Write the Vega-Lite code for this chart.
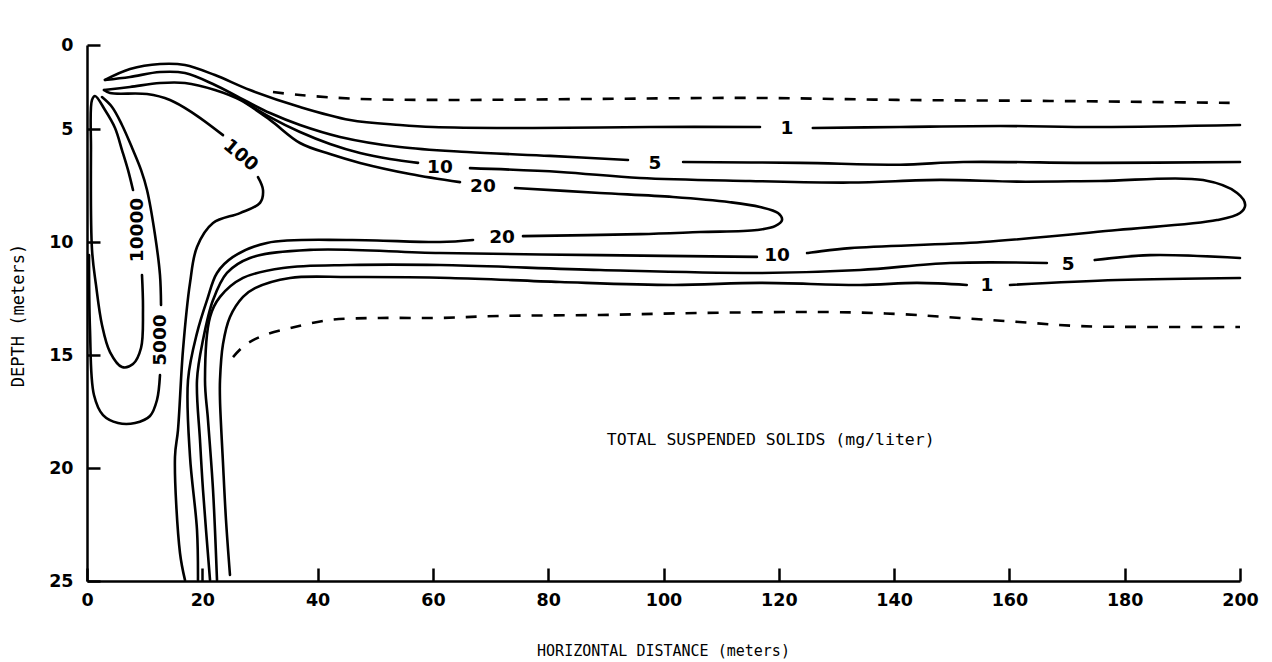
{
  "$schema": "https://vega.github.io/schema/vega-lite/v6.json",
  "width": 1153,
  "height": 536,
  "autosize": {"type": "none"},
  "padding": {"left": 87, "top": 45, "right": 32, "bottom": 81},
  "background": "white",
  "config": {"view": {"stroke": null}},
  "datasets": {
    "solid": [
      {"s":"1a","o":0,"x":3.12,"y":2.08},{"s":"1a","o":1,"x":7.46,"y":1.43},{"s":"1a","o":2,"x":12.66,"y":1.13},{"s":"1a","o":3,"x":17.0,"y":1.19},{"s":"1a","o":4,"x":22.2,"y":1.79},{"s":"1a","o":5,"x":28.27,"y":2.68},{"s":"1a","o":6,"x":36.95,"y":3.69},{"s":"1a","o":7,"x":45.62,"y":4.46},{"s":"1a","o":8,"x":54.29,"y":4.76},{"s":"1a","o":9,"x":60.02,"y":4.88},{"s":"1a","o":10,"x":77.36,"y":4.94},{"s":"1a","o":11,"x":97.66,"y":4.88},{"s":"1a","o":12,"x":116.74,"y":4.88},
      {"s":"1b","o":0,"x":125.9,"y":4.94},{"s":"1b","o":1,"x":141.0,"y":4.88},{"s":"1b","o":2,"x":158.4,"y":4.82},{"s":"1b","o":3,"x":175.7,"y":4.88},{"s":"1b","o":4,"x":200,"y":4.76},
      {"s":"5a","o":0,"x":3.12,"y":2.08},{"s":"5a","o":1,"x":7.46,"y":1.9},{"s":"5a","o":2,"x":12.66,"y":1.61},{"s":"5a","o":3,"x":17.0,"y":1.67},{"s":"5a","o":4,"x":22.2,"y":2.38},{"s":"5a","o":5,"x":26.54,"y":3.15},{"s":"5a","o":6,"x":31.74,"y":4.05},{"s":"5a","o":7,"x":36.95,"y":4.76},{"s":"5a","o":8,"x":43.89,"y":5.35},{"s":"5a","o":9,"x":54.29,"y":5.8},{"s":"5a","o":10,"x":65.92,"y":6.02},{"s":"5a","o":11,"x":80.31,"y":6.19},{"s":"5a","o":12,"x":93.84,"y":6.37},
      {"s":"5b","o":0,"x":103.4,"y":6.46},{"s":"5b","o":1,"x":123.7,"y":6.5},{"s":"5b","o":2,"x":141.0,"y":6.58},{"s":"5b","o":3,"x":152.0,"y":6.46},{"s":"5b","o":4,"x":175.7,"y":6.5},{"s":"5b","o":5,"x":200,"y":6.46},
      {"s":"10a","o":0,"x":26.54,"y":3.21},{"s":"10a","o":1,"x":31.74,"y":4.29},{"s":"10a","o":2,"x":36.95,"y":5.13},{"s":"10a","o":3,"x":42.15,"y":5.66},{"s":"10a","o":4,"x":47.36,"y":6.06},{"s":"10a","o":5,"x":52.55,"y":6.33},{"s":"10a","o":6,"x":57.42,"y":6.5},
      {"s":"10b","o":0,"x":66.44,"y":6.73},{"s":"10b","o":1,"x":82.05,"y":6.9},{"s":"10b","o":2,"x":95.92,"y":7.17},{"s":"10b","o":3,"x":115.0,"y":7.3},{"s":"10b","o":4,"x":132.35,"y":7.37},{"s":"10b","o":5,"x":147.96,"y":7.25},{"s":"10b","o":6,"x":161.3,"y":7.33},{"s":"10b","o":7,"x":175.7,"y":7.3},{"s":"10b","o":8,"x":193.6,"y":7.26},{"s":"10b","o":9,"x":199.5,"y":7.83},{"s":"10b","o":10,"x":200.9,"y":8.36},{"s":"10b","o":11,"x":200,"y":8.72},{"s":"10b","o":12,"x":196.0,"y":9.03},{"s":"10b","o":13,"x":178.7,"y":9.47},{"s":"10b","o":14,"x":155.4,"y":10.0},{"s":"10b","o":15,"x":132.35,"y":10.27},{"s":"10b","o":16,"x":124.9,"y":10.49},
      {"s":"10c","o":0,"x":116.2,"y":10.66},{"s":"10c","o":1,"x":88.98,"y":10.58},{"s":"10c","o":2,"x":61.23,"y":10.49},{"s":"10c","o":3,"x":38.68,"y":10.35},{"s":"10c","o":4,"x":28.27,"y":10.71},{"s":"10c","o":5,"x":24.28,"y":11.37},{"s":"10c","o":6,"x":21.86,"y":12.57},{"s":"10c","o":7,"x":20.12,"y":14.34},{"s":"10c","o":8,"x":19.08,"y":16.11},{"s":"10c","o":9,"x":19.6,"y":18.76},{"s":"10c","o":10,"x":20.12,"y":20.97},{"s":"10c","o":11,"x":21.34,"y":24.96},
      {"s":"20a","o":0,"x":2.95,"y":2.68},{"s":"20a","o":1,"x":7.46,"y":2.5},{"s":"20a","o":2,"x":12.66,"y":2.26},{"s":"20a","o":3,"x":17.0,"y":2.26},{"s":"20a","o":4,"x":22.2,"y":2.68},{"s":"20a","o":5,"x":26.54,"y":3.27},{"s":"20a","o":6,"x":31.74,"y":4.46},{"s":"20a","o":7,"x":36.95,"y":5.62},{"s":"20a","o":8,"x":42.15,"y":6.11},{"s":"20a","o":9,"x":47.36,"y":6.5},{"s":"20a","o":10,"x":56.03,"y":6.99},{"s":"20a","o":11,"x":64.7,"y":7.35},
      {"s":"20b","o":0,"x":74.24,"y":7.61},{"s":"20b","o":1,"x":88.98,"y":7.83},{"s":"20b","o":2,"x":101.65,"y":8.01},{"s":"20b","o":3,"x":111.54,"y":8.24},{"s":"20b","o":4,"x":116.74,"y":8.45},{"s":"20b","o":5,"x":119.86,"y":8.72},{"s":"20b","o":6,"x":120.56,"y":9.03},{"s":"20b","o":7,"x":119.34,"y":9.3},{"s":"20b","o":8,"x":116.22,"y":9.47},{"s":"20b","o":9,"x":106.33,"y":9.56},{"s":"20b","o":10,"x":95.92,"y":9.65},{"s":"20b","o":11,"x":75.63,"y":9.74},
      {"s":"20c","o":0,"x":66.96,"y":9.91},{"s":"20c","o":1,"x":61.23,"y":10.0},{"s":"20c","o":2,"x":45.62,"y":9.91},{"s":"20c","o":3,"x":31.22,"y":10.04},{"s":"20c","o":4,"x":25.33,"y":10.66},{"s":"20c","o":5,"x":22.55,"y":11.37},{"s":"20c","o":6,"x":20.82,"y":12.57},{"s":"20c","o":7,"x":19.08,"y":14.03},{"s":"20c","o":8,"x":17.52,"y":16.11},{"s":"20c","o":9,"x":17.87,"y":19.51},{"s":"20c","o":10,"x":19.08,"y":22.74},{"s":"20c","o":11,"x":19.25,"y":24.96},
      {"s":"100a","o":0,"x":2.95,"y":2.68},{"s":"100a","o":1,"x":3.99,"y":2.86},{"s":"100a","o":2,"x":10.41,"y":2.92},{"s":"100a","o":3,"x":14.4,"y":3.27},{"s":"100a","o":4,"x":18.39,"y":4.05},{"s":"100a","o":5,"x":23.59,"y":5.27},
      {"s":"100b","o":0,"x":29.66,"y":7.13},{"s":"100b","o":1,"x":30.53,"y":7.7},{"s":"100b","o":2,"x":30.01,"y":8.27},{"s":"100b","o":3,"x":26.54,"y":8.72},{"s":"100b","o":4,"x":21.86,"y":9.16},{"s":"100b","o":5,"x":19.08,"y":10.22},{"s":"100b","o":6,"x":17.87,"y":11.81},{"s":"100b","o":7,"x":16.65,"y":14.78},{"s":"100b","o":8,"x":15.78,"y":18.32},{"s":"100b","o":9,"x":15.26,"y":19.51},{"s":"100b","o":10,"x":16.13,"y":23.76},{"s":"100b","o":11,"x":17.0,"y":24.96},
      {"s":"5La","o":0,"x":22.55,"y":24.96},{"s":"5La","o":1,"x":21.86,"y":20.97},{"s":"5La","o":2,"x":20.99,"y":17.88},{"s":"5La","o":3,"x":20.47,"y":16.11},{"s":"5La","o":4,"x":21.34,"y":13.32},{"s":"5La","o":5,"x":23.07,"y":12.43},{"s":"5La","o":6,"x":27.06,"y":11.59},{"s":"5La","o":7,"x":34.0,"y":11.15},{"s":"5La","o":8,"x":45.62,"y":11.02},{"s":"5La","o":9,"x":61.23,"y":11.02},{"s":"5La","o":10,"x":88.98,"y":11.24},{"s":"5La","o":11,"x":116.74,"y":11.37},{"s":"5La","o":12,"x":134.1,"y":11.24},{"s":"5La","o":13,"x":149.7,"y":10.93},{"s":"5La","o":14,"x":166.5,"y":10.93},
      {"s":"5Lb","o":0,"x":174.8,"y":10.8},{"s":"5Lb","o":1,"x":184.4,"y":10.58},{"s":"5Lb","o":2,"x":200,"y":10.71},
      {"s":"1La","o":0,"x":24.8,"y":24.73},{"s":"1La","o":1,"x":24.11,"y":22.3},{"s":"1La","o":2,"x":23.59,"y":19.78},{"s":"1La","o":3,"x":23.07,"y":16.99},{"s":"1La","o":4,"x":23.07,"y":16.11},{"s":"1La","o":5,"x":23.59,"y":14.52},{"s":"1La","o":6,"x":24.8,"y":13.32},{"s":"1La","o":7,"x":27.06,"y":12.43},{"s":"1La","o":8,"x":29.14,"y":12.04},{"s":"1La","o":9,"x":35.21,"y":11.59},{"s":"1La","o":10,"x":45.62,"y":11.55},{"s":"1La","o":11,"x":62.97,"y":11.59},{"s":"1La","o":12,"x":82.05,"y":11.77},{"s":"1La","o":13,"x":101.65,"y":11.9},{"s":"1La","o":14,"x":116.74,"y":11.81},{"s":"1La","o":15,"x":134.1,"y":11.9},{"s":"1La","o":16,"x":144.0,"y":11.81},{"s":"1La","o":17,"x":152.6,"y":11.9},
      {"s":"1Lb","o":0,"x":160.1,"y":11.9},{"s":"1Lb","o":1,"x":178.7,"y":11.68},{"s":"1Lb","o":2,"x":200,"y":11.59},
      {"s":"10000","o":0,"x":9.54,"y":11.46},{"s":"10000","o":1,"x":9.71,"y":13.01},{"s":"10000","o":2,"x":9.37,"y":14.69},{"s":"10000","o":3,"x":7.98,"y":15.4},{"s":"10000","o":4,"x":6.07,"y":15.53},{"s":"10000","o":5,"x":3.99,"y":14.87},{"s":"10000","o":6,"x":2.6,"y":13.67},{"s":"10000","o":7,"x":1.56,"y":11.9},{"s":"10000","o":8,"x":0.87,"y":10.35},{"s":"10000","o":9,"x":0.69,"y":5.93},{"s":"10000","o":10,"x":0.87,"y":3.27},{"s":"10000","o":11,"x":1.39,"y":3.04},{"s":"10000","o":12,"x":3.12,"y":3.87},{"s":"10000","o":13,"x":4.86,"y":4.94},{"s":"10000","o":14,"x":6.07,"y":5.93},{"s":"10000","o":15,"x":7.11,"y":6.81},{"s":"10000","o":16,"x":7.98,"y":7.7},
      {"s":"5000a","o":0,"x":12.66,"y":15.89},{"s":"5000a","o":1,"x":12.14,"y":16.99},{"s":"5000a","o":2,"x":10.93,"y":17.7},{"s":"5000a","o":3,"x":8.33,"y":18.01},{"s":"5000a","o":4,"x":5.38,"y":18.01},{"s":"5000a","o":5,"x":2.78,"y":17.66},{"s":"5000a","o":6,"x":1.21,"y":16.77},{"s":"5000a","o":7,"x":0.52,"y":13.89},{"s":"5000a","o":8,"x":0.35,"y":10.58},
      {"s":"5000b","o":0,"x":12.84,"y":12.79},{"s":"5000b","o":1,"x":12.66,"y":11.46},{"s":"5000b","o":2,"x":11.8,"y":9.69},{"s":"5000b","o":3,"x":10.41,"y":7.7},{"s":"5000b","o":4,"x":9.37,"y":6.81},{"s":"5000b","o":5,"x":7.98,"y":5.93},{"s":"5000b","o":6,"x":6.07,"y":4.76},{"s":"5000b","o":7,"x":4.34,"y":3.69},{"s":"5000b","o":8,"x":2.6,"y":3.1}
    ],
    "dashed": [
      {"s":"du","o":0,"x":32.26,"y":2.8},{"s":"du","o":1,"x":36.95,"y":2.98},{"s":"du","o":2,"x":47.36,"y":3.21},{"s":"du","o":3,"x":62.97,"y":3.27},{"s":"du","o":4,"x":88.98,"y":3.21},{"s":"du","o":5,"x":115.0,"y":3.15},{"s":"du","o":6,"x":141.0,"y":3.27},{"s":"du","o":7,"x":167.0,"y":3.33},{"s":"du","o":8,"x":184.4,"y":3.39},{"s":"du","o":9,"x":199.1,"y":3.45},
      {"s":"dl","o":0,"x":25.33,"y":15.09},{"s":"dl","o":1,"x":27.41,"y":14.56},{"s":"dl","o":2,"x":30.36,"y":14.16},{"s":"dl","o":3,"x":35.21,"y":13.81},{"s":"dl","o":4,"x":42.15,"y":13.45},{"s":"dl","o":5,"x":50.82,"y":13.36},{"s":"dl","o":6,"x":61.23,"y":13.36},{"s":"dl","o":7,"x":71.64,"y":13.27},{"s":"dl","o":8,"x":88.98,"y":13.23},{"s":"dl","o":9,"x":106.33,"y":13.14},{"s":"dl","o":10,"x":128.8,"y":13.1},{"s":"dl","o":11,"x":141.0,"y":13.19},{"s":"dl","o":12,"x":151.4,"y":13.36},{"s":"dl","o":13,"x":161.7,"y":13.54},{"s":"dl","o":14,"x":172.1,"y":13.72},{"s":"dl","o":15,"x":184.4,"y":13.76},{"s":"dl","o":16,"x":200,"y":13.76}
    ],
    "labels": [
      {"t":"1","x":121.4,"y":4.94,"a":0},
      {"t":"5","x":98.53,"y":6.5,"a":0},
      {"t":"10","x":61.23,"y":6.68,"a":0},
      {"t":"20","x":68.69,"y":7.52,"a":0},
      {"t":"100","x":26.71,"y":6.15,"a":40},
      {"t":"10000","x":8.67,"y":9.47,"a":-90},
      {"t":"5000","x":12.66,"y":14.34,"a":-90},
      {"t":"20","x":71.99,"y":9.78,"a":0},
      {"t":"10","x":119.7,"y":10.58,"a":0},
      {"t":"5","x":170.2,"y":10.97,"a":0},
      {"t":"1","x":156.1,"y":11.9,"a":0}
    ],
    "note": [
      {"t":"TOTAL SUSPENDED SOLIDS (mg/liter)","x":118.6,"y":18.76}
    ]
  },
  "encoding": {
    "x": {
      "field": "x", "type": "quantitative",
      "scale": {"domain": [0, 200], "nice": false, "zero": false},
      "axis": {
        "values": [0, 20, 40, 60, 80, 100, 120, 140, 160, 180, 200],
        "grid": false, "tickSize": -13, "tickWidth": 2.5, "tickColor": "black",
        "domainColor": "black", "domainWidth": 2.5,
        "labelFont": "DejaVu Sans", "labelFontWeight": "bold", "labelFontSize": 17.5, "labelColor": "black",
        "labelPadding": 23, "labelFlush": false, "labelOverlap": false,
        "title": "HORIZONTAL DISTANCE (meters)",
        "titleFont": "DejaVu Sans Mono", "titleFontWeight": "normal", "titleFontSize": 15, "titleColor": "black",
        "titleX": 576, "titleY": 69, "titleBaseline": "middle", "titleAlign": "center"
      }
    },
    "y": {
      "field": "y", "type": "quantitative",
      "scale": {"domain": [0, 5, 25], "range": [0, 84, 536], "nice": false, "zero": false},
      "axis": {
        "values": [0, 5, 10, 15, 20, 25],
        "grid": false, "tickSize": -13, "tickWidth": 2.5, "tickColor": "black",
        "domainColor": "black", "domainWidth": 2.5,
        "labelFont": "DejaVu Sans", "labelFontWeight": "bold", "labelFontSize": 17.5, "labelColor": "black",
        "labelPadding": 27, "labelOverlap": false,
        "title": "DEPTH (meters)",
        "titleFont": "DejaVu Sans Mono", "titleFontWeight": "normal", "titleFontSize": 17, "titleColor": "black",
        "titleX": -69, "titleY": 270, "titleAngle": -90, "titleBaseline": "middle", "titleAlign": "center"
      }
    }
  },
  "layer": [
    {
      "data": {"name": "solid"},
      "mark": {"type": "line", "color": "black", "strokeWidth": 2.6, "interpolate": "catmull-rom", "strokeCap": "round", "strokeJoin": "round", "clip": false},
      "encoding": {"detail": {"field": "s"}, "order": {"field": "o", "type": "quantitative"}}
    },
    {
      "data": {"name": "dashed"},
      "mark": {"type": "line", "color": "black", "strokeWidth": 2.6, "interpolate": "catmull-rom", "strokeDash": [11, 11], "clip": false},
      "encoding": {"detail": {"field": "s"}, "order": {"field": "o", "type": "quantitative"}}
    },
    {
      "data": {"name": "labels"},
      "mark": {"type": "text", "font": "DejaVu Sans", "fontWeight": "bold", "fontSize": 18.5, "color": "black", "align": "center", "baseline": "middle"},
      "encoding": {"text": {"field": "t"}, "angle": {"field": "a", "type": "quantitative", "scale": null}}
    },
    {
      "data": {"name": "note"},
      "mark": {"type": "text", "font": "DejaVu Sans Mono", "fontSize": 16.5, "color": "black", "align": "center", "baseline": "middle"},
      "encoding": {"text": {"field": "t"}}
    }
  ]
}
